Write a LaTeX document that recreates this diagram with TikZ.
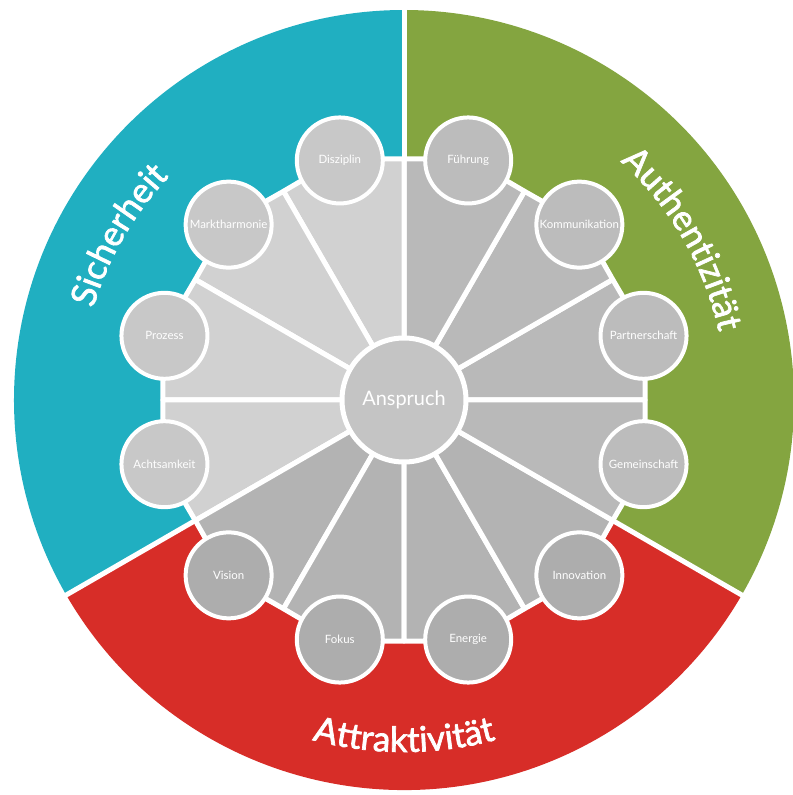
\documentclass[tikz,border=0pt]{standalone}
\usepackage{fontspec}
\setmainfont{Lato}
\newfontfamily\ringfamilie{Lato}[FakeBold=2]
\usetikzlibrary{decorations.text}

\definecolor{sicherblau}{HTML}{20AFC1}
\definecolor{authgruen}{HTML}{84A540}
\definecolor{attrrot}{HTML}{D72D28}
\definecolor{grauhell}{HTML}{D1D1D1}
\definecolor{graumittel}{HTML}{B9B9B9}
\definecolor{graudunkel}{HTML}{B3B3B3}
\definecolor{kreishell}{HTML}{C8C8C8}
\definecolor{kreismittel}{HTML}{BCBCBC}
\definecolor{kreisdunkel}{HTML}{ADADAD}
\definecolor{kreismitte}{HTML}{C4C4C4}

\newcommand{\ringschrift}{\ringfamilie\fontsize{35}{35}\selectfont}

\tikzstyle{every node}=[text centered, text=white, inner sep=1pt]
\tikzstyle{blatt}=[circle, draw=white, line width=4bp, minimum size=86bp, inner sep=0pt, font=\fontsize{11.5}{11.5}\selectfont]
\tikzstyle{ringtext}=[decorate, decoration={text along path, text align=center, text color=white}]

\begin{document}
\begin{tikzpicture}[x=1bp, y=1bp]
  \useasboundingbox (-404,-395) rectangle (389,400);

  \fill[sicherblau] (0,0) -- (90:390) arc[start angle=90, end angle=210, radius=390bp] -- cycle;
  \fill[authgruen] (0,0) -- (-30:390) arc[start angle=-30, end angle=90, radius=390bp] -- cycle;
  \fill[attrrot] (0,0) -- (210:390) arc[start angle=210, end angle=330, radius=390bp] -- cycle;
  \foreach \w in {90,210,330}
    \draw[white, line width=5bp] (0,0) -- (\w:400);

  \foreach \k/\farbe in {0/graumittel, 1/graumittel, 2/graumittel, 3/grauhell, 4/grauhell, 5/grauhell,
                         6/grauhell, 7/graudunkel, 8/graudunkel, 9/graudunkel, 10/graudunkel, 11/graumittel}
    \filldraw[fill=\farbe, draw=white, line width=5bp, line join=round]
      (0,0) -- ({30*\k}:241) -- ({30*\k+15}:250) -- ({30*\k+30}:241) -- cycle;

  \node[circle, fill=kreismitte, draw=white, line width=5bp, minimum size=124bp,
        font=\fontsize{20}{20}\selectfont] (anspruch) at (0,0) {Anspruch};

  \node[blatt, fill=kreismittel] (fuehrung) at (75:248) {Führung};
  \node[blatt, fill=kreismittel] (kommunikation) at (45:248) {Kommunikation};
  \node[blatt, fill=kreismittel] (partnerschaft) at (15:248) {Partnerschaft};
  \node[blatt, fill=kreismittel] (gemeinschaft) at (-15:248) {Gemeinschaft};
  \node[blatt, fill=kreisdunkel] (innovation) at (-45:248) {Innovation};
  \node[blatt, fill=kreisdunkel] (energie) at (-75:248) {Energie};
  \node[blatt, fill=kreisdunkel] (fokus) at (-105:248) {Fokus};
  \node[blatt, fill=kreisdunkel] (vision) at (-135:248) {Vision};
  \node[blatt, fill=kreishell] (achtsamkeit) at (-165:248) {Achtsamkeit};
  \node[blatt, fill=kreishell] (prozess) at (165:248) {Prozess};
  \node[blatt, fill=kreishell] (marktharmonie) at (135:248) {Marktharmonie};
  \node[blatt, fill=kreishell] (disziplin) at (105:248) {Disziplin};

  \path[ringtext, decoration={text={|\ringschrift|Sicherheit}}]
    (190:324) arc[start angle=190, end angle=110, radius=324bp];
  \path[ringtext, decoration={text={|\ringschrift|Authentizität}}]
    (70:322) arc[start angle=70, end angle=-10, radius=322bp];
  \path[ringtext, decoration={text={|\ringschrift|Attraktivität}}]
    (-130:352) arc[start angle=-130, end angle=-50, radius=352bp];
\end{tikzpicture}
\end{document}
